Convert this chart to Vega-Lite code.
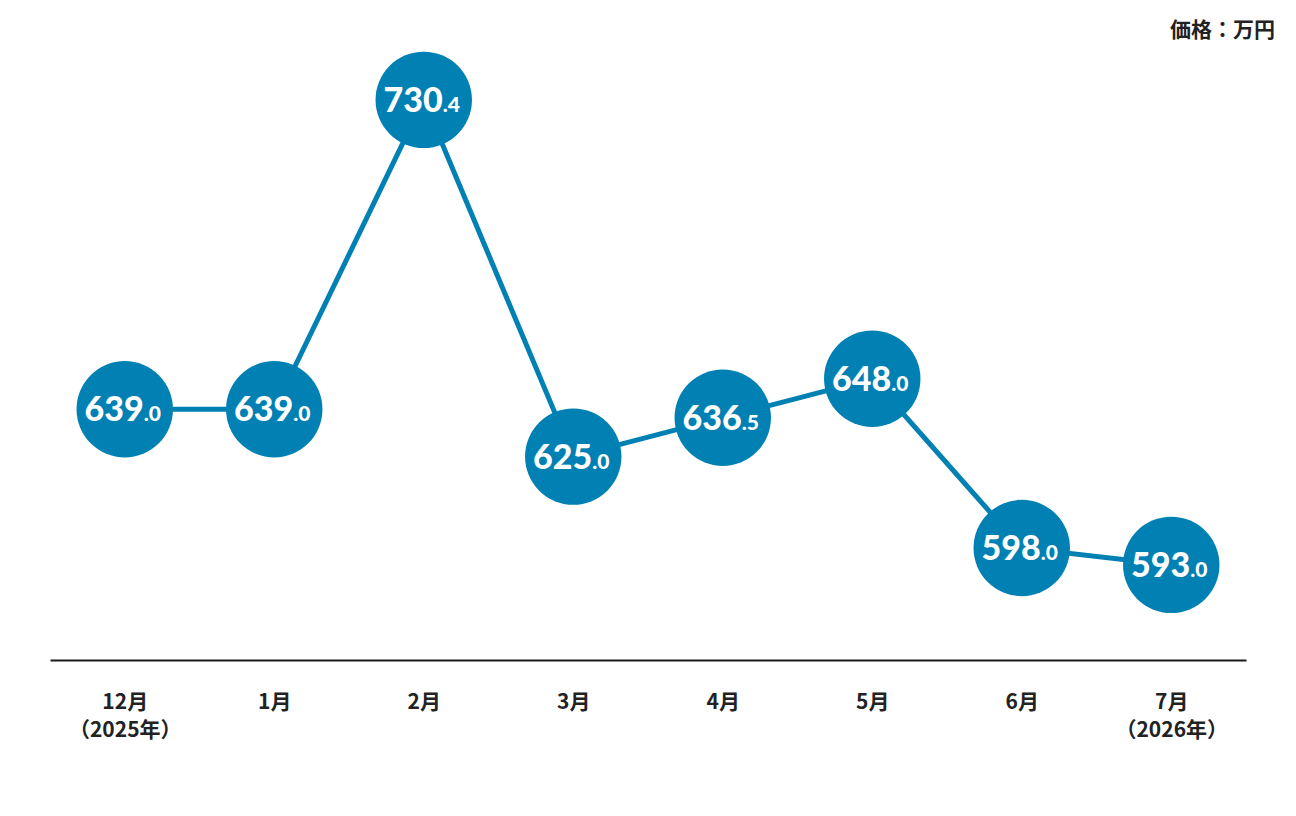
{
  "$schema": "https://vega.github.io/schema/vega-lite/v6.json",
  "autosize": "none",
  "width": 1196,
  "height": 620,
  "padding": {"left": 50, "top": 40, "right": 50, "bottom": 156},
  "background": "white",
  "title": {
    "text": "価格：万円",
    "anchor": "end",
    "font": "Noto Sans CJK JP",
    "fontSize": 21,
    "fontWeight": "bold",
    "color": "#222222",
    "dx": 29,
    "offset": 0,
    "baseline": "middle",
    "dy": 12
  },
  "data": {
    "values": [
      {"month": "12月|（2025年）", "price": 639.0, "whole": "639", "frac": ".0"},
      {"month": "1月", "price": 639.0, "whole": "639", "frac": ".0"},
      {"month": "2月", "price": 730.4, "whole": "730", "frac": ".4"},
      {"month": "3月", "price": 625.0, "whole": "625", "frac": ".0"},
      {"month": "4月", "price": 636.5, "whole": "636", "frac": ".5"},
      {"month": "5月", "price": 648.0, "whole": "648", "frac": ".0"},
      {"month": "6月", "price": 598.0, "whole": "598", "frac": ".0"},
      {"month": "7月|（2026年）", "price": 593.0, "whole": "593", "frac": ".0"}
    ]
  },
  "encoding": {
    "x": {
      "field": "month",
      "type": "ordinal",
      "sort": null,
      "scale": {"type": "point", "padding": 0.5},
      "axis": {
        "title": null,
        "labelAngle": 0,
        "labelExpr": "split(datum.label, '|')",
        "labelFont": "Noto Sans CJK JP",
        "labelFontSize": 21,
        "labelFontWeight": "bold",
        "labelColor": "#222222",
        "labelLineHeight": 28,
        "labelPadding": 31,
        "ticks": false,
        "domainColor": "#1a1a1a",
        "domainWidth": 2,
        "grid": false
      }
    },
    "y": {
      "field": "price",
      "type": "quantitative",
      "scale": {"domain": [564.9, 748.1], "zero": false, "nice": false},
      "axis": null
    }
  },
  "layer": [
    {
      "mark": {"type": "line", "color": "#0080b3", "strokeWidth": 5}
    },
    {
      "mark": {"type": "circle", "color": "#0080b3", "opacity": 1, "size": 9300}
    },
    {
      "mark": {
        "type": "text",
        "align": "right",
        "baseline": "alphabetic",
        "dx": 19,
        "dy": 12,
        "font": "Lato",
        "fontSize": 34,
        "fontWeight": 900,
        "color": "white"
      },
      "encoding": {"text": {"field": "whole"}}
    },
    {
      "mark": {
        "type": "text",
        "align": "left",
        "baseline": "alphabetic",
        "dx": 19,
        "dy": 12,
        "font": "Lato",
        "fontSize": 21,
        "fontWeight": 900,
        "color": "white"
      },
      "encoding": {"text": {"field": "frac"}}
    }
  ],
  "config": {"view": {"stroke": null}}
}
